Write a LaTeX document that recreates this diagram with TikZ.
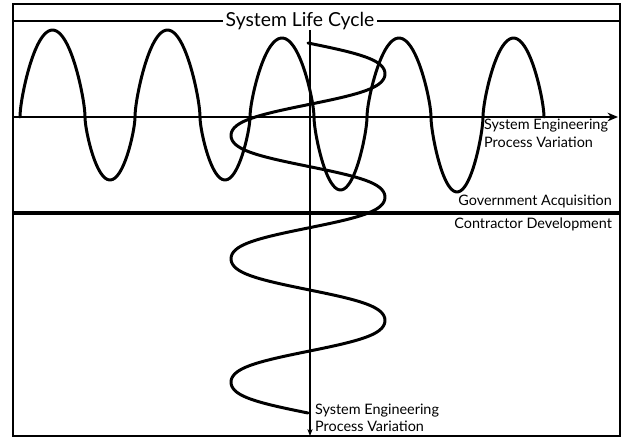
\documentclass[tikz,border=0pt]{standalone}
\usepackage{fontspec}
\setmainfont{Lato}
\usetikzlibrary{arrows.meta}

\begin{document}
\begin{tikzpicture}[
    x=0.02cm, y=-0.02cm,
    boxline/.style={line width=1.6pt},
    axisline/.style={line width=0.9pt},
    wave/.style={line width=1.7pt, line cap=round, line join=round},
    lbl/.style={font=\fontsize{8.2}{10}\selectfont, inner sep=1pt, align=left},
    heading/.style={font=\fontsize{11}{13}\selectfont, fill=white, inner sep=1.5pt}
  ]
  \useasboundingbox (0,0) rectangle (623,439);
  % frame and bands
  \draw[boxline] (13,4) rectangle (620,436);
  \coordinate (lefttop) at (13,21);
  \coordinate (righttop) at (620,21);
  \node[heading] (cycle) at (300,21) {System Life Cycle};
  \draw[axisline] (lefttop) -- (cycle.west);
  \draw[axisline] (cycle.east) -- (righttop);
  \coordinate (divl) at (13,213);
  \coordinate (divr) at (620,213);
  \draw[line width=2.2pt] (divl) -- (divr);
  % axes
  \coordinate (hstart) at (13,117);
  \coordinate (hend) at (618,117);
  \coordinate (vtop) at (310,30);
  \coordinate (vbot) at (310,436);
  \draw[axisline, -{Stealth[length=6pt, width=5pt]}] (hstart) -- (hend);
  \draw[axisline, -{Stealth[length=4pt, width=3pt]}] (vtop) -- (vbot);
  % life cycle wave
  \foreach \xa/\xb/\h in {20/85/87, 85/135/-63, 135/200/87, 200/250/-63,
      250/314/79, 314/367/-73, 367/431/79, 431/483/-75, 483/544/79}
    \draw[wave] plot[domain=0:180, samples=40, variable=\t, smooth]
      ({\xa+(\xb-\xa)*(1-cos(\t))/2}, {117-\h*sin(\t)*(0.4+0.6*sin(\t))});
  % process variation helix
  \draw[wave] plot[domain=43:413, samples=180, variable=\s, smooth]
    ({308+77*(1.25*sin(2.9189*(\s-43))-0.25*pow(sin(2.9189*(\s-43)),3))}, \s);
  % labels
  \node[lbl, anchor=north west] (sepright) at (482,117) {System Engineering\\Process Variation};
  \node[lbl, anchor=south east] (gov) at (614,210) {Government Acquisition};
  \node[lbl, anchor=north east] (con) at (614,216) {Contractor Development};
  \node[lbl, anchor=south west] (sepbottom) at (313,434) {System Engineering\\Process Variation};
\end{tikzpicture}
\end{document}
